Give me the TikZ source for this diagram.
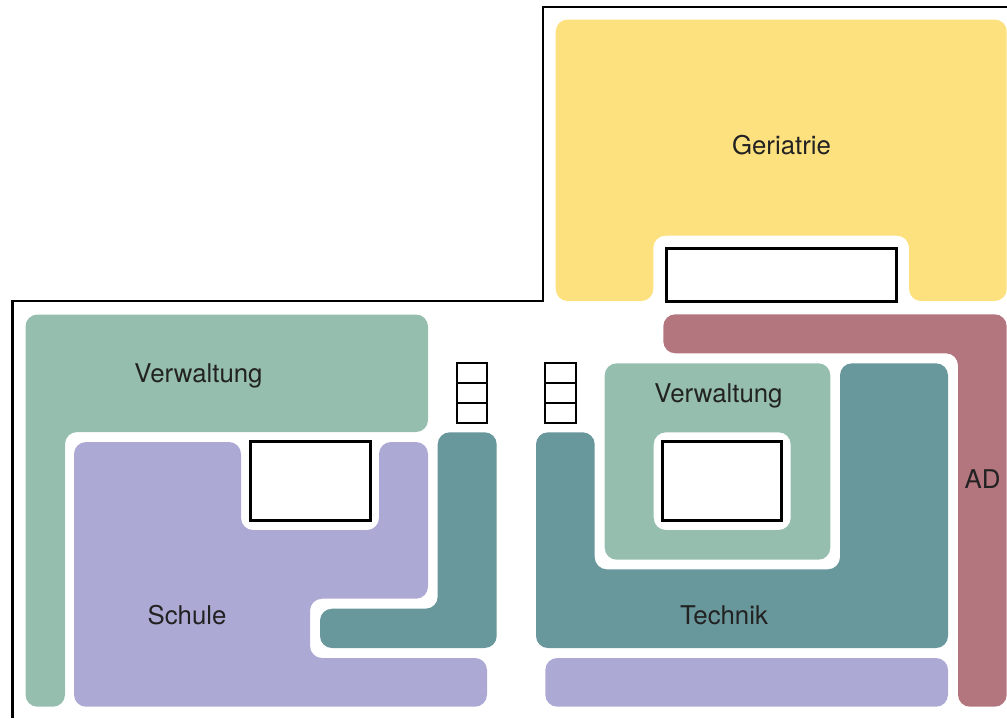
\documentclass[tikz,border=0pt]{standalone}
\usepackage{fontspec}
\setmainfont{TeX Gyre Heros}
\definecolor{geriatrie}{HTML}{FDE17F}
\definecolor{verwaltung}{HTML}{95BEAF}
\definecolor{schule}{HTML}{ACA9D4}
\definecolor{technik}{HTML}{68979C}
\definecolor{dienst}{HTML}{B3767F}
\definecolor{labeltext}{HTML}{222222}
\tikzset{
    room/.style={rounded corners=12pt},
    court/.style={draw, line width=3pt, fill=white},
    wall/.style={draw, line width=2.6pt},
    stairs/.style={draw, line width=2pt},
    label/.style={anchor=base, inner sep=0pt, text=labeltext, font=\fontsize{25.8}{30}\selectfont}
}

\begin{document}
\begin{tikzpicture}[x=1pt, y=-1pt]
    \useasboundingbox (0, 0) rectangle (1007, 718);

    % outline
    \draw[wall] (12.5, 718) -- (12.5, 301) -- (543, 301) -- (543, 7) -- (1007, 7);

    % rooms
    \fill[geriatrie, room] (555.7, 19.5) -- (1006.7, 19.5) -- (1006.7, 301) -- (909, 301)
        -- (909, 235.7) -- (653.3, 235.7) -- (653.3, 301) -- (555.7, 301) -- cycle;
    \fill[dienst, room] (663.3, 314.3) -- (1006.7, 314.3) -- (1006.7, 706.7) -- (958, 706.7)
        -- (958, 353.3) -- (663.3, 353.3) -- cycle;
    \fill[verwaltung, room] (25.5, 314.5) -- (428, 314.5) -- (428, 432) -- (65, 432)
        -- (65, 706.7) -- (25.5, 706.7) -- cycle;
    \fill[schule, room] (74, 442) -- (241, 442) -- (241, 530) -- (379, 530) -- (379, 442)
        -- (428, 442) -- (428, 598.7) -- (310, 598.7) -- (310, 658) -- (487, 658)
        -- (487, 706.7) -- (74, 706.7) -- cycle;
    \fill[technik, room] (437.7, 432.3) -- (496.7, 432.3) -- (496.7, 648) -- (320, 648)
        -- (320, 608.7) -- (437.7, 608.7) -- cycle;
    \fill[technik, room] (536, 432.3) -- (594.7, 432.3) -- (594.7, 569.3) -- (840, 569.3)
        -- (840, 363.3) -- (948, 363.3) -- (948, 648) -- (536, 648) -- cycle;
    \fill[verwaltung, room, even odd rule] (604.7, 363.3) rectangle (830.3, 559.7)
        (653.7, 432.3) rectangle (790.7, 530);
    \fill[schule, room] (545.3, 658) rectangle (948, 706.7);

    % courtyards
    \path[court] (666, 248.3) rectangle (896.7, 301);
    \path[court] (250.7, 441.7) rectangle (370, 520.7);
    \path[court] (662.7, 441.7) rectangle (781.7, 520.7);

    % stairs
    \foreach \x/\w in {456.7/30.3, 544.7/31.3} {
        \path[stairs] (\x, 363) rectangle ++(\w, 59.7);
        \draw[stairs] (\x, 382.5) -- ++(\w, 0);
        \draw[stairs] (\x, 402.5) -- ++(\w, 0);
    }

    % labels
    \node[label] (geriatrie) at (781.5, 154) {Geriatrie};
    \node[label] (verwaltungA) at (198.5, 382.7) {Verwaltung};
    \node[label] (verwaltungB) at (718.5, 402.7) {Verwaltung};
    \node[label] (schule) at (187, 624) {Schule};
    \node[label] (technik) at (724, 624) {Technik};
    \node[label] (ad) at (982.5, 488.3) {AD};
\end{tikzpicture}
\end{document}
